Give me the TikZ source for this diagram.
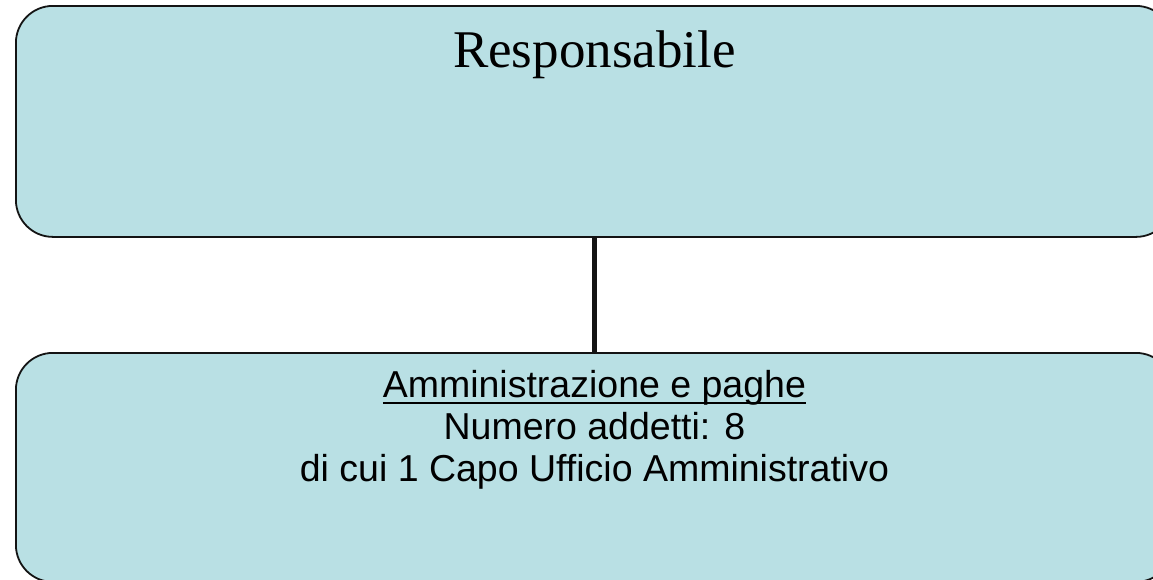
\documentclass[tikz,border=0pt]{standalone}
\usepackage{fontspec}
\setmainfont{Liberation Serif}
\newfontfamily\arialfont{Liberation Sans}
\usepackage{tikz}
\definecolor{box_blue}{RGB}{185,224,228}
\definecolor{edge_black}{RGB}{20,20,20}
\newcommand{\titleline}[1]{\setbox0\hbox{#1}\rlap{\rule[-6pt]{\wd0}{2pt}}\box0}

\begin{document}
\begin{tikzpicture}[x=1pt,y=-1pt]
    \tikzstyle{box}=[draw=edge_black, line width=1.8pt, fill=box_blue, rounded corners=37pt, inner sep=0pt, minimum width=1157pt, anchor=north west, text=black]
    \useasboundingbox (0,0) rectangle (1153,579);
    \clip (0,0) rectangle (1153,579);

    \node[box, text height=62pt, text depth=169pt, font=\fontsize{53}{60}\selectfont] (resp) at (15,5) {Responsabile};
    \node[box, text height=45pt, text depth=184pt, font=\arialfont\fontsize{37.5}{42}\selectfont] (amm) at (15,352)
        {\begin{tabular}[t]{@{}c@{}}\titleline{Amministrazione e paghe}\\ Numero addetti: 8\\ di cui 1 Capo Ufficio Amministrativo\end{tabular}};

    \path (resp) edge[edge_black, line width=5pt] (amm);
\end{tikzpicture}
\end{document}
